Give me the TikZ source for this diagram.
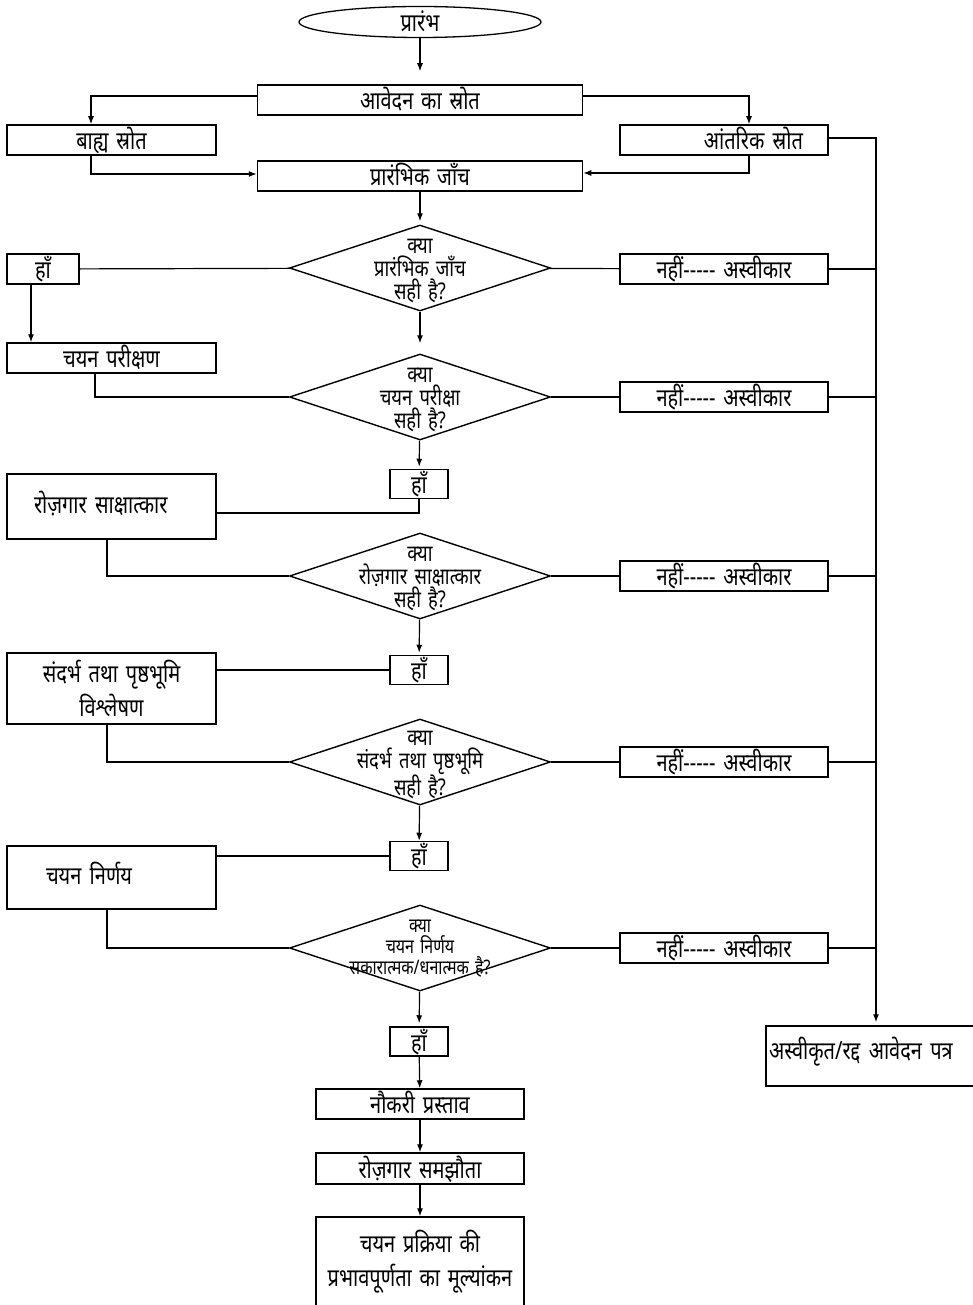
\documentclass[tikz,border=0pt]{standalone}
\usepackage{fontspec}
\newfontfamily\hindi[Script=Devanagari,FakeStretch=0.8,WordSpace=1.5]{Noto Sans}
\usetikzlibrary{shapes.geometric,arrows.meta}
\tikzset{
  box/.style={draw, line width=1.5pt, minimum height=30pt, inner sep=2pt, text height=20pt, text depth=1pt},
  tall/.style={draw, line width=1.5pt, inner sep=2pt},
  ask/.style={draw, diamond, line width=1.4pt, minimum width=261pt, minimum height=86pt, inner sep=0pt},
  qtext/.style={align=center, inner sep=0pt, yshift=-3pt, font=\hindi\fontsize{23}{23}\selectfont},
  line/.style={line width=1.2pt},
  arr/.style={line width=1.2pt, -{Latex[length=8pt,width=6pt]}},
}
\begin{document}
\begin{tikzpicture}[x=1pt, y=-1pt, font=\hindi\fontsize{25}{34}\selectfont]
\useasboundingbox (0,0) rectangle (973,1305);
\fill[white] (0,0) rectangle (973,1305);
% top part
\node[draw, ellipse, line width=1.3pt, minimum width=242pt, minimum height=31pt, inner sep=0pt, text height=20pt, text depth=1pt] (start) at (420,22) {प्रारंभ};
\node[box, minimum width=325pt] (src) at (420,100) {आवेदन का स्रोत};
\node[box, minimum width=209pt] (ext) at (111.5,140) {बाह्य स्रोत};
\node[box, minimum width=208pt, text width=158pt, align=right] (int) at (724,140) {आंतरिक स्रोत};
\node[box, minimum width=325pt] (chk) at (420,176) {प्रारंभिक जाँच};
% questions
\node[ask, label={[qtext]center:{क्या\\प्रारंभिक जाँच\\सही है?}}] (q1) at (420,268) {};
\node[ask, label={[qtext]center:{क्या\\चयन परीक्षा\\सही है?}}] (q2) at (420,397) {};
\node[ask, label={[qtext]center:{क्या\\रोज़गार साक्षात्कार\\सही है?}}] (q3) at (420,576) {};
\node[ask, label={[qtext]center:{क्या\\संदर्भ तथा पृष्ठभूमि\\सही है?}}] (q4) at (420,762) {};
\node[ask, label={[qtext, yshift=2pt, font=\hindi\fontsize{20}{21}\selectfont]center:{क्या\\चयन निर्णय\\सकारात्मक/धनात्मक है?}}] (q5) at (420,948) {};
% yes boxes
\node[box, minimum width=72pt] (ok1) at (43,269) {हाँ};
\node[box, minimum width=58pt, minimum height=29pt] (ok2) at (419,484) {हाँ};
\node[box, minimum width=58pt, minimum height=29pt] (ok3) at (419,670) {हाँ};
\node[box, minimum width=58pt, minimum height=29pt] (ok4) at (419,856) {हाँ};
\node[box, minimum width=58pt, minimum height=29pt] (ok5) at (419,1041.5) {हाँ};
% no boxes
\node[box, minimum width=208pt] (no1) at (724,269) {नहीं----- अस्वीकार};
\node[box, minimum width=208pt] (no2) at (724,397) {नहीं----- अस्वीकार};
\node[box, minimum width=208pt] (no3) at (724,576) {नहीं----- अस्वीकार};
\node[box, minimum width=208pt] (no4) at (724,762) {नहीं----- अस्वीकार};
\node[box, minimum width=208pt] (no5) at (724,948) {नहीं----- अस्वीकार};
% left steps
\node[box, minimum width=209pt] (test) at (111.5,358) {चयन परीक्षण};
\node[box, minimum width=209pt, minimum height=65pt, text height=15pt, text depth=2pt, text width=155pt, align=left] (intv) at (111.5,506.5) {रोज़गार साक्षात्कार};
\node[tall, minimum width=209pt, minimum height=71pt, align=center] (ref) at (111.5,688.5) {संदर्भ तथा पृष्ठभूमि\\विश्लेषण};
\node[box, minimum width=209pt, minimum height=63pt, text height=15pt, text depth=2pt, text width=131pt, align=left] (dec) at (111.5,877.5) {चयन निर्णय};
% bottom steps
\node[box, minimum width=208pt] (offer) at (420,1104) {नौकरी प्रस्ताव};
\node[box, minimum width=208pt, minimum height=31pt] (agree) at (420,1168.5) {रोज़गार समझौता};
\node[tall, minimum width=208pt, minimum height=90pt, align=center] (eval) at (420,1262) {चयन प्रक्रिया की\\प्रभावपूर्णता का मूल्यांकन};
\node[box, minimum width=220pt, minimum height=60pt, text height=7pt, text depth=1pt, text width=214pt, align=left] (rej) at (876,1056) {अस्वीकृत/रद्द आवेदन पत्र};
% connectors
\draw[arr, shorten >=13pt] (start) -- (src);
\draw[arr] ([yshift=4pt]src.west) -| ([xshift=-20.5pt]ext.north);
\draw[arr] ([yshift=4pt]src.east) -| ([xshift=25pt]int.north);
\draw[arr] ([xshift=-20.5pt]ext.south) |- ([yshift=2pt]chk.west);
\draw[arr] ([xshift=25pt]int.south) |- ([yshift=3pt]chk.east);
\draw[arr, shorten >=3pt] (chk) -- (q1);
\draw[line] (ok1) -- (q1);
\draw[line] (q1) -- (no1);
\draw[arr] ([xshift=-12pt]ok1.south) -- ([xshift=-80.5pt]test.north);
\draw[arr, shorten >=10pt] (q1) -- (q2);
\draw[line] ([xshift=-16.5pt]test.south) |- (q2.west);
\draw[line] (q2) -- (no2);
\draw[arr, shorten >=2pt] (q2) -- (ok2);
\draw[line] (ok2.south) |- ([yshift=-6.5pt]intv.east);
\draw[line] ([xshift=-4.5pt]intv.south) |- (q3.west);
\draw[line] (q3) -- (no3);
\draw[arr, shorten >=2pt] (q3) -- (ok3);
\draw[line] (ok3.west) -- (ok3.west -| ref.east);
\draw[line] ([xshift=-4.5pt]ref.south) |- (q4.west);
\draw[line] (q4) -- (no4);
\draw[arr] (q4) -- (ok4);
\draw[line] (ok4.west) -- (ok4.west -| dec.east);
\draw[line] ([xshift=-4.5pt]dec.south) |- (q5.west);
\draw[line] (q5) -- (no5);
\draw[arr, shorten >=3pt] (q5) -- (ok5);
\draw[arr] (ok5) -- (offer);
\draw[arr] (offer) -- (agree);
\draw[arr] (agree) -- (eval);
% reject bus
\draw[arr, shorten >=3pt] ([yshift=2pt]int.east) -| (rej.north);
\foreach \n in {no1,no2,no3,no4,no5}
  \draw[line] (\n.east) -- (\n.east -| rej.north);
\end{tikzpicture}
\end{document}
